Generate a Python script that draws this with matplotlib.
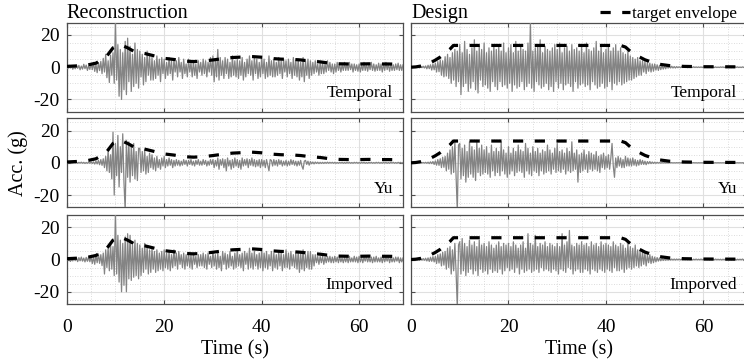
import numpy as np
import matplotlib
matplotlib.use("Agg")
import matplotlib.pyplot as plt
from matplotlib.ticker import MultipleLocator

plt.rcParams['font.family'] = ['Liberation Serif', 'DejaVu Serif']

# ---------------- data (0.25 s sampling) ----------------
dt = 0.25

recon_temporal = [
    0.6, -0.9, 1.2, -0.5, 0.8, -1.3, 0.4, -1.0, 1.4, -0.7,
    1.1, -1.6, 0.7, -1.2, 1.8, -0.9, 1.3, -2.0, 0.8, -1.4,
    2.2, -1.5, 3.0, -2.6, 1.8, -3.4, 2.9, -2.1, 3.6, -4.0,
    5.5, -3.0, 8.0, -6.5, 4.0, -9.5, 7.5, -5.0, 9.0, -10.0,
    30, -8, 14, -18, 11, -20, 9, -14, 16, -17,
    18, -9, 13, -15, 8, -12, 15, -10, 11, -13,
    10, -6, 8, -11, 6, -9, 10, -5, 7, -8,
    6, -8, 4, -7, 7, -5, 5, -9, 6, -4,
    5, -7, 3, -5, 6, -4, 4, -8, 5, -3,
    4, -6, 6, -3, 3, -7, 5, -4, 2, -6,
    5, -3, 3, -6, 4, -5, 2, -7, 4, -3,
    3, -5, 5, -4, 4, -6, 3, -3, 6, -5,
    7, -9, 5, -6, 11, -8, 6, -5, 4, -7,
    6, -4, 5, -7, 3, -6, 7, -5, 4, -6,
    5, -7, 4, -5, 6, -8, 3, -6, 5, -4,
    7, -5, 4, -8, 6, -4, 5, -7, 3, -6,
    6, -4, 5, -7, 3, -6, 7, -5, 4, -6,
    5, -6, 3, -5, 6, -4, 4, -7, 5, -3,
    4, -6, 5, -4, 3, -7, 6, -5, 4, -6,
    5, -8, 3, -6, 6, -9, 4, -5, 5, -7,
    4, -5, 3, -4, 4, -3, 2, -5, 3, -4,
    3, -4, 2, -3, 4, -2, 3, -3, 2, -4,
    2, -3, 3, -2, 2, -3, 1.5, -2, 3, -2,
    2, -2, 3, -1.5, 2, -3, 2, -2, 1.5, -2.5,
    2, -3, 1.5, -2, 3, -2, 2, -2.5, 2, -1.5,
    3, -2, 2, -2.5, 1.5, -2, 2.5, -2, 2, -3,
    2, -2, 3, -1.5, 2, -2.5, 2, -2, 1.5, -2,
    2, -1.5, 2.5, -2, 1.5, -2, 1.5]

recon_yu = [
    0.2, -0.3, 0.3, -0.2, 0.3, -0.3, 0.2, -0.2, 0.3, -0.3,
    0.3, -0.2, 0.4, -0.3, 0.3, -0.4, 0.2, -0.3, 0.4, -0.3,
    0.5, -0.4, 0.6, -0.8, 1.0, -0.7, 1.5, -1.2, 2.0, -1.6,
    2.5, -3.0, 4.0, -5.0, 8.0, -6.0, 5.0, -10.0, 19.0, -20.0,
    12, -8, 17, -15, 10, -6, 18, -12, -30, 14,
    -9, 13, -12, 10, -8, 12, -10, 7, -11, 9,
    9, -6, 7, -5, 8, -7, 4, -6, 6, -3,
    5, -4, 3, -5, 4, -3, 2, -4, 3, -2,
    4, -3, 2, -2, 3, -1.5, 2, -3, 1.5, -2,
    2, -1.5, 1.5, -2, 1, -1.5, 2, -1, 1.5, -2,
    1.5, -1, 2, -1.5, 1, -2, 1.5, -1, 2, -1.5,
    1, -1.5, 2, -1, 1.5, -2, 1, -1.5, 2, -1,
    2, -3, 1.5, -2, 3, -4, 2, -1.5, 2.5, -3,
    2, -5, 3, -2, 1.5, -4, 2, -3, 3, -2,
    2, -3, 1.5, -4, 3, -2, 2, -1.5, 2.5, -3,
    2, -1.5, 3, -2, 2, -2.5, 1.5, -2, 2, -3,
    2, -2, 1.5, -3, 2, -1.5, -5, 2, 1.5, -2,
    2, -1.5, 1.5, -2, 2, -1, 1.5, -2, 1, -1.5,
    1.5, -2, 1, -1.5, 2, -1, 1.5, -1.5, 1, -2,
    1, -1.5, 1.5, -2, -4, 1, 1.5, -1, 1, -1.5,
    0.8, -0.6, 0.5, -0.7, 0.5, -0.4, 0.4, -0.5, 0.3, -0.4,
    0.3, -0.4, 0.3, -0.3, 0.4, -0.3, 0.3, -0.2, 0.3, -0.3,
    0.3, -0.3, 0.2, -0.3, 0.3, -0.2, 0.3, -0.3, 0.2, -0.3,
    0.3, -0.2, 0.3, -0.3, 0.2, -0.3, 0.3, -0.2, 0.3, -0.3,
    0.2, -0.3, 0.3, -0.2, 0.3, -0.3, 0.2, -0.3, 0.3, -0.2,
    0.3, -0.3, 0.2, -0.3, 0.3, -0.2, 0.3, -0.3, 0.2, -0.3,
    0.3, -0.2, 0.3, -0.3, 0.2, -0.3, 0.3, -0.2, 0.3, -0.3,
    0.2, -0.3, 0.3, -0.2, 0.3, -0.3, 0.2]

recon_improved = [
    0.8, -0.5, 1.0, -1.2, 0.6, -0.9, 1.2, -0.7, 1.0, -1.3,
    1.2, -0.8, 1.5, -1.0, 0.9, -1.5, 1.3, -1.1, 1.6, -1.4,
    2.0, -2.5, 1.6, -3.0, 2.8, -2.0, 3.5, -2.4, 3.0, -3.8,
    4.0, -9.0, 6.0, -5.0, 7.5, -7.0, 10.0, -6.0, 8.0, -10.0,
    30, -9, 15, -14, 12, -20, 10, -16, 14, -20,
    16, -12, 15, -13, 9, -11, 12, -10, 10, -12,
    9, -10, 7, -8, 10, -6, 8, -9, 6, -8,
    7, -6, 5, -8, 6, -7, 4, -6, 5, -7,
    6, -5, 4, -6, 5, -7, 3, -5, 6, -4,
    4, -6, 5, -3, 3, -5, 4, -6, 3, -4,
    4, -5, 3, -6, 4, -3, 2, -5, 3, -4,
    3, -4, 4, -5, 3, -6, 4, -3, 2, -5,
    5, -4, 3, -6, 4, -5, 2, -7, 5, -3,
    4, -6, 3, -5, 5, -4, 2, -6, 4, -5,
    6, -4, 3, -5, 4, -7, 5, -3, 4, -6,
    7, -5, 4, -6, 5, -4, 3, -6, 4, -5,
    6, -7, 4, -5, 5, -6, 3, -4, 5, -7,
    4, -5, 3, -6, 5, -4, 4, -7, 3, -5,
    6, -5, 4, -6, 5, -4, 3, -5, 4, -6,
    5, -8, 4, -6, 6, -7, 3, -5, 5, -6,
    5, -6, 3, -4, 3, -2, 2, -3, 2, -2,
    2, -3, 1.5, -2, 2, -1.5, 2, -2, 1.5, -2,
    2, -1.5, 1.5, -2, 2, -1.5, 1, -2, 1.5, -1.5,
    1.5, -2, 2, -1.5, 1, -1.5, 2, -1.5, 1.5, -2,
    2, -1.5, 1.5, -2, 1.5, -1, 2, -1.5, 1.5, -1.5,
    1.5, -2, 1.5, -1.5, 2, -1.5, 1, -1.5, 1.5, -2,
    2, -1.5, 1.5, -1, 2, -2, 1.5, -1.5, 1, -1.5,
    1.5, -1, 1.5, -2, 1, -1.5, 1]

design_temporal = [
    0.1, -0.2, 0.2, -0.1, 0.3, -0.2, 0.3, -0.4, 0.4, -0.3,
    0.6, -0.5, 0.8, -1.0, 1.2, -0.9, 1.5, -1.8, 2.0, -1.6,
    2.5, -3.0, 3.5, -2.8, 4.5, -5.0, 4.0, -6.0, 6.5, -5.5,
    8, -7, 6, -10, 9, -8, 11, -12, 10, -9,
    14, -17, 9, -12, 16, -10, 11, -15, 8, -13,
    12, -9, 17, -14, 10, -16, 13, -8, 11, -12,
    15, -11, 9, -13, 12, -15, 10, -9, 14, -12,
    11, -14, 13, -9, 10, -12, 15, -11, 9, -13,
    12, -10, 14, -15, 9, -11, 16, -13, 10, -12,
    13, -9, 11, -14, 10, -12, 15, -10, 28, -13,
    10, -15, 12, -9, 14, -11, 17, -13, 9, -12,
    13, -10, 11, -14, 10, -12, 12, -15, 14, -9,
    11, -13, 15, -10, 9, -14, 12, -11, 13, -10,
    10, -12, 14, -15, 11, -9, 12, -13, 10, -11,
    13, -10, 9, -12, 15, -11, 11, -14, 10, -9,
    12, -11, 16, -13, 10, -12, 14, -10, 9, -13,
    11, -12, 13, -9, 10, -14, 12, -10, 14, -11,
    10, -9, 12, -11, 9, -10, 8, -9, 10, -8,
    7, -8, 6, -7, 5, -6, 6, -5, 4, -5,
    4, -3, 3.5, -4, 3, -2.5, 2.5, -3, 2, -2.5,
    2, -1.8, 1.5, -2, 1.2, -1.5, 1, -1.2, 0.8, -1,
    0.8, -0.6, 0.7, -0.5, 0.6, -0.5, 0.4, -0.5, 0.4, -0.3,
    0.3, -0.3, 0.3, -0.2, 0.3, -0.2, 0.2, -0.3, 0.2, -0.2,
    0.2, -0.2, 0.3, -0.2, 0.2, -0.2, 0.2, -0.2, 0.2, -0.2,
    0.2, -0.2, 0.2, -0.2, 0.2, -0.1, 0.2, -0.2, 0.1, -0.2,
    0.2, -0.2, 0.1, -0.2, 0.2, -0.1, 0.2, -0.2, 0.1, -0.2,
    0.2, -0.1, 0.2, -0.2, 0.1, -0.2, 0.2, -0.1, 0.2, -0.2,
    0.1, -0.2, 0.2, -0.1, 0.2, -0.1, 0.1]

design_yu = [
    0.05, -0.05, 0.1, -0.05, 0.1, -0.1, 0.1, -0.1, 0.15, -0.1,
    0.2, -0.2, 0.3, -0.3, 0.4, -0.5, 0.6, -0.5, 0.8, -1.0,
    1.2, -1.5, 2.0, -1.6, 2.5, -3.0, 3.5, -2.8, 4.0, -5.0,
    6, -4, 8, -7, 10, -6, 13, -9, -30, 11,
    12, -10, 9, -8, 11, -12, 7, -9, 13, -7,
    10, -9, 8, -11, 13, -6, 9, -8, 11, -7,
    8, -6, 10, -7, 6, -9, 11, -5, 7, -8,
    9, -6, 7, -8, 13, -5, 8, -7, 6, -9,
    10, -7, 6, -5, 9, -8, 7, -6, 11, -5,
    8, -6, 7, -9, 12, -5, 9, -7, 6, -8,
    10, -5, 7, -6, 9, -8, 6, -5, 8, -7,
    7, -6, 11, -5, 8, -7, 6, -4, 9, -6,
    12, -5, 7, -6, 8, -4, 6, -7, 9, -5,
    7, -6, 13, -5, 6, -4, 8, -12, 5, -6,
    6, -5, 8, -4, 5, -6, 7, -4, 6, -5,
    5, -4, 7, -5, 4, -6, 5, -3, 6, -4,
    4, -3, 5, -4, 3, 12, -2, -9, 3, -3,
    4, -2, 3, -3, 2, -3, 4, -2, 3, -2,
    2.5, -2, 3, -1.5, 2, -2, 1.5, -1.5, 2, -1,
    1.5, -1, 1, -1.2, 0.8, -0.6, 0.8, -0.5, 0.5, -0.4,
    0.4, -0.3, 0.3, -0.2, 0.2, -0.2, 0.15, -0.1, 0.1, -0.1,
    0.1, -0.1, 0.1, -0.05, 0.1, -0.1, 0.05, -0.1, 0.1, -0.05,
    0.1, -0.05, 0.05, -0.1, 0.1, -0.05, 0.05, -0.05, 0.1, -0.05,
    0.05, -0.05, 0.1, -0.05, 0.05, -0.1, 0.05, -0.05, 0.05, -0.05,
    0.05, -0.05, 0.05, -0.05, 0.1, -0.05, 0.05, -0.05, 0.05, -0.05,
    0.05, -0.05, 0.05, -0.05, 0.05, -0.05, 0.05, -0.05, 0.05, -0.05,
    0.05, -0.05, 0.05, -0.05, 0.05, -0.05, 0.05, -0.05, 0.05, -0.05,
    0.05, -0.05, 0.05, -0.05, 0.05, -0.05, 0.05]

design_improved = [
    0.2, -0.3, 0.3, -0.2, 0.4, -0.3, 0.3, -0.5, 0.5, -0.4,
    0.6, -0.5, 0.8, -0.9, 1.0, -1.2, 1.4, -1.1, 1.8, -1.5,
    2.0, -2.5, 3.0, -2.2, 3.5, -4.0, 4.5, -3.5, 5.0, -6.0,
    7, -5, 8, -9, 6, -7, 10, -8, -30, 9,
    11, -9, 13, -7, 10, -10, 8, -8, 12, -6,
    9, -9, 11, -7, 8, -10, 12, -6, 9, -8,
    10, -7, 8, -9, 11, -6, 9, -8, 7, -7,
    9, -8, 11, -6, 8, -9, 10, -7, 9, -5,
    10, -7, 8, -6, 11, -8, 9, -5, 7, -9,
    9, -6, 11, -8, 7, -7, 16, -6, 10, -8,
    9, -7, 15, -6, 8, -8, 10, -5, 9, -7,
    11, -6, 8, -7, 10, -8, 9, -6, 8, -7,
    10, -9, 8, -6, 16, -7, 9, -8, 11, -5,
    18, -6, 9, -9, 8, -7, 10, -6, 9, -8,
    11, -8, 9, -6, 10, -7, 8, -9, 11, -6,
    9, -7, 10, -8, 8, -6, 11, -7, 9, -8,
    10, -6, 9, -7, 8, -8, 11, -5, 9, -7,
    8, -7, 10, -6, 9, -8, 7, -6, 10, -5,
    8, -6, 7, -5, 9, -4, 6, -5, 5, -4,
    5, -3, 4, -4, 3, -2, 3, -2.5, 2, -2,
    1.5, -1.5, 1.2, -1, 1, -0.8, 0.8, -0.6, 0.6, -0.5,
    0.5, -0.4, 0.4, -0.3, 0.3, -0.3, 0.3, -0.3, 0.3, -0.2,
    0.3, -0.2, 0.2, -0.3, 0.2, -0.2, 0.3, -0.2, 0.2, -0.2,
    0.2, -0.3, 0.2, -0.2, 0.3, -0.2, 0.2, -0.2, 0.3, -0.2,
    0.2, -0.2, 0.3, -0.2, 0.2, -0.3, 0.2, -0.2, 0.2, -0.2,
    0.3, -0.2, 0.2, -0.2, 0.2, -0.3, 0.2, -0.2, 0.3, -0.2,
    0.2, -0.2, 0.3, -0.2, 0.2, -0.2, 0.2, -0.3, 0.2, -0.2,
    0.2, -0.2, 0.3, -0.2, 0.2, -0.2, 0.2]

env_recon_t = [0, 2, 4, 6, 8, 9.5, 11, 12.5, 14, 16, 18, 20, 22, 24, 26, 28, 30,
               32, 34, 36, 38, 40, 42, 44, 46, 48, 50, 52, 54, 56, 58, 60, 62,
               64, 66, 69]
env_recon_v = [0.5, 0.8, 1.2, 2.5, 6, 12, 14, 12, 9.5, 8.5, 7, 5.5, 4.8, 3.8,
               3.5, 3.8, 4.5, 5.3, 6, 6.3, 6.6, 6.2, 5.4, 5, 4.9, 4.5, 3.8, 3.3,
               2.5, 2.1, 2, 2, 2.1, 2, 2, 1.8]

env_design_t = [0, 1, 2, 3, 4, 5, 6, 7, 8, 8.7, 43, 44, 45.5, 48, 50.5, 53, 56,
                60, 69]
env_design_v = [0, 0.2, 0.7, 1.6, 2.8, 4.4, 6.3, 8.6, 11.2, 13.5, 13.5, 12.5,
                8.5, 4.6, 2.0, 1.0, 0.5, 0.3, 0.2]

row_labels = ["Temporal", "Yu", "Imporved"]
col_titles = ["Reconstruction", "Design"]
x_ticks = [0, 20, 40, 60]
y_ticks = [-20, 0, 20]

# ---------------- figure ----------------
W, H = 744, 364
fig = plt.figure(figsize=(W / 100, H / 100), dpi=100)

col_x = [66.7 / W, 411 / W]
col_w = 336.3 / W
row_top = [22.7, 118.3, 215.0]
row_h = 89.0

signals = [[recon_temporal, design_temporal],
           [recon_yu, design_yu],
           [recon_improved, design_improved]]
envs = [(env_recon_t, env_recon_v), (env_design_t, env_design_v)]

sig_color = '#848484'
spine_c = '#4d4d4d'
env_dash = (3.2, 3.6)

for r in range(3):
    for c in range(2):
        bottom = 1 - (row_top[r] + row_h) / H
        ax = fig.add_axes([col_x[c], bottom, col_w, row_h / H])
        ax.set_xlim(0, 69)
        ax.set_ylim(-27.6, 27.6)
        ax.xaxis.set_major_locator(MultipleLocator(20))
        ax.xaxis.set_minor_locator(MultipleLocator(5))
        ax.set_yticks(y_ticks)
        ax.yaxis.set_minor_locator(MultipleLocator(5))
        ax.grid(True, which='major', color='#e0e0e0', lw=0.8, ls='-')
        ax.grid(True, which='minor', color='#d0d0d0', lw=0.6, ls=(0, (1, 2)))
        ax.set_axisbelow(True)
        sig = signals[r][c]
        t = dt * np.arange(len(sig))
        ax.plot(t, sig, color=sig_color, lw=0.9, zorder=3)
        et, ev = envs[c]
        ax.plot(et, ev, color='black', lw=2.3, dashes=env_dash, zorder=4)
        for s in ax.spines.values():
            s.set_color(spine_c)
            s.set_linewidth(0.9)
        ax.tick_params(which='both', direction='in', top=True, right=True,
                       color=spine_c, labelsize=14)
        ax.tick_params(axis='y', pad=5)
        ax.tick_params(axis='x', pad=11)
        ax.tick_params(which='major', length=3)
        ax.tick_params(which='minor', length=0)
        if c == 0:
            ax.set_yticklabels([str(v) for v in y_ticks])
        else:
            ax.set_yticklabels([])
        if r == 2:
            ax.set_xticks(x_ticks)
            ax.set_xticklabels([str(v) for v in x_ticks])
            ax.set_xlabel("Time (s)", fontsize=14.5, labelpad=3)
        else:
            ax.set_xticklabels([])
        ax.text(0.97, 0.21, row_labels[r], transform=ax.transAxes,
                ha='right', va='center', fontsize=12.5, zorder=5)
        if r == 0:
            ax.text(0.0, 1.05, col_titles[c], transform=ax.transAxes,
                    ha='left', va='baseline', fontsize=14.5)
        if r == 1 and c == 0:
            ax.set_ylabel("Acc. (g)", fontsize=14.5, labelpad=4)
        if r == 0 and c == 1:
            ax.plot([], [], color='black', lw=2.3, dashes=env_dash,
                    label='target envelope')
            ax.legend(loc='center left', bbox_to_anchor=(600 / W, 1 - 14 / H),
                      bbox_transform=fig.transFigure,
                      frameon=False, fontsize=12.3, handlelength=1.75,
                      handletextpad=0.12, borderpad=0, borderaxespad=0)

fig.savefig("out.png", dpi=100)
